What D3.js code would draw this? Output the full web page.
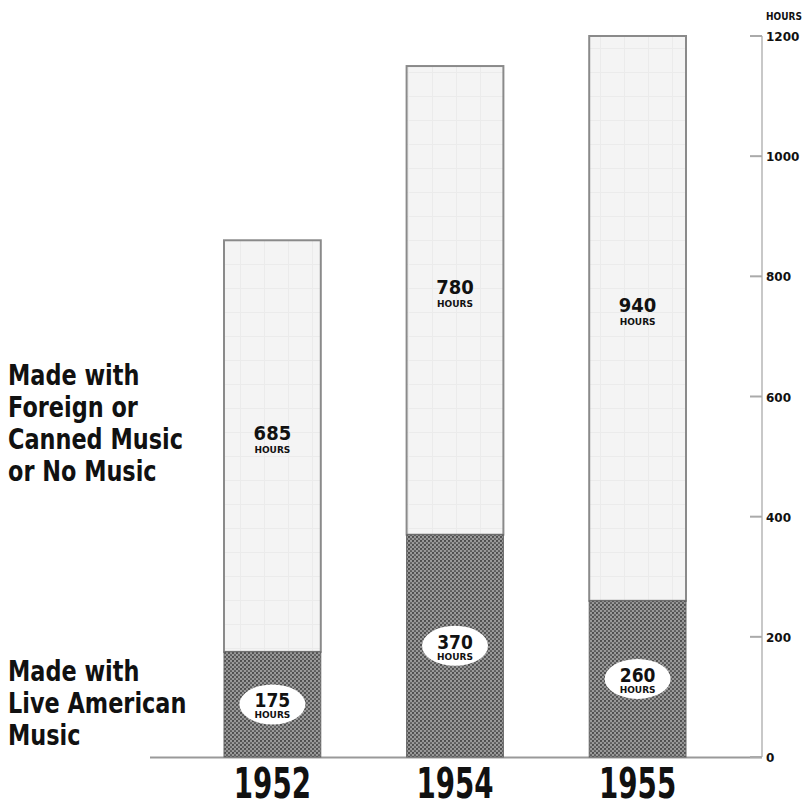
<!DOCTYPE html>
<html>
<head>
<meta charset="utf-8">
<script src="https://cdn.jsdelivr.net/npm/d3@7"></script>
<style>
  body { margin: 0; background: #fff; }
  svg { display: block; }
  .lbl { font-family: "DejaVu Sans", sans-serif; font-weight: bold; fill: #111; }
</style>
</head>
<body>
<div id="chart"></div>
<script>
// data
var years = ["1952", "1954", "1955"];
var liveHours = [175, 370, 260];
var otherHours = [685, 780, 940];
var tickValues = [0, 200, 400, 600, 800, 1000, 1200];
var topLegend = ["Made with", "Foreign or", "Canned Music", "or No Music"];
var bottomLegend = ["Made with", "Live American", "Music"];

var width = 807, height = 809;

var svg = d3.select("#chart").append("svg")
    .attr("width", width)
    .attr("height", height);

var defs = svg.append("defs");

// dark dotted screen for the live music part
var dark = defs.append("pattern")
    .attr("id", "darkdots")
    .attr("width", 4).attr("height", 4)
    .attr("patternUnits", "userSpaceOnUse");
dark.append("rect").attr("width", 4).attr("height", 4).attr("fill", "#9a9a9a");
dark.append("circle").attr("cx", 1).attr("cy", 1).attr("r", 1.1).attr("fill", "#484848");
dark.append("circle").attr("cx", 3).attr("cy", 3).attr("r", 1.1).attr("fill", "#585858");

// faint grid for the light part
var light = defs.append("pattern")
    .attr("id", "lightgrid")
    .attr("width", 24).attr("height", 24)
    .attr("patternUnits", "userSpaceOnUse");
light.append("rect").attr("width", 24).attr("height", 24).attr("fill", "#f4f4f4");
light.append("path").attr("d", "M0,0.5H24M0.5,0V24")
    .attr("stroke", "#ebebeb").attr("stroke-width", 1);

var y = d3.scaleLinear().domain([0, 1200]).range([757, 36]);
var x = d3.scaleBand().domain(years).range([224, 686]).paddingInner(0.47).paddingOuter(0);

var data = years.map(function(yr, i) {
    return { year: yr, live: liveHours[i], other: otherHours[i] };
});

function cx(d) { return x(d.year) + x.bandwidth() / 2; }

// baseline
svg.append("line")
    .attr("x1", 150).attr("x2", 762)
    .attr("y1", y(0) + 0.5).attr("y2", y(0) + 0.5)
    .attr("stroke", "#999").attr("stroke-width", 2);

// right axis
var axis = svg.append("g").attr("transform", "translate(762,0)");
axis.append("line")
    .attr("x1", 0).attr("x2", 0)
    .attr("y1", y(1200)).attr("y2", y(0))
    .attr("stroke", "#c8c8c8").attr("stroke-width", 2);
axis.selectAll(".tick").data(tickValues).enter().append("line")
    .attr("x1", -12).attr("x2", 0)
    .attr("y1", function(d) { return y(d); })
    .attr("y2", function(d) { return y(d); })
    .attr("stroke", "#aaa").attr("stroke-width", 2);
axis.selectAll(".ticklbl").data(tickValues).enter().append("text")
    .attr("class", "lbl")
    .attr("x", 4)
    .attr("y", function(d) { return y(d) + 5; })
    .style("font-size", "12px")
    .text(function(d) { return d; });
axis.append("text")
    .attr("class", "lbl")
    .attr("transform", "translate(4,20) scale(0.9,1)")
    .style("font-size", "10px")
    .text("HOURS");

var bars = svg.selectAll(".bar").data(data).enter().append("g");

// light (foreign / canned / none) part
bars.append("rect")
    .attr("x", function(d) { return x(d.year); })
    .attr("y", function(d) { return y(d.live + d.other); })
    .attr("width", x.bandwidth())
    .attr("height", function(d) { return y(d.live) - y(d.live + d.other); })
    .attr("fill", "url(#lightgrid)")
    .attr("stroke", "#8a8a8a").attr("stroke-width", 2);

// dark (live american) part
bars.append("rect")
    .attr("x", function(d) { return x(d.year); })
    .attr("y", function(d) { return y(d.live); })
    .attr("width", x.bandwidth())
    .attr("height", function(d) { return y(0) - y(d.live); })
    .attr("fill", "url(#darkdots)")
    .attr("stroke", "#666").attr("stroke-width", 1);

// labels in light part
bars.append("text")
    .attr("class", "lbl")
    .attr("text-anchor", "middle")
    .attr("transform", function(d) {
        return "translate(" + cx(d) + "," + ((y(d.live) + y(d.live + d.other)) / 2 - 6) + ") scale(0.9,1)";
    })
    .style("font-size", "20px")
    .text(function(d) { return d.other; });
bars.append("text")
    .attr("class", "lbl")
    .attr("text-anchor", "middle")
    .attr("x", cx)
    .attr("y", function(d) { return (y(d.live) + y(d.live + d.other)) / 2 + 7; })
    .style("font-size", "9px")
    .text("HOURS");

// white ovals in dark part
bars.append("ellipse")
    .attr("cx", cx)
    .attr("cy", function(d) { return (y(0) + y(d.live)) / 2; })
    .attr("rx", 33).attr("ry", 20)
    .attr("fill", "#fff");
bars.append("text")
    .attr("class", "lbl")
    .attr("text-anchor", "middle")
    .attr("transform", function(d) {
        return "translate(" + cx(d) + "," + ((y(0) + y(d.live)) / 2 + 3) + ") scale(0.9,1)";
    })
    .style("font-size", "19px")
    .text(function(d) { return d.live; });
bars.append("text")
    .attr("class", "lbl")
    .attr("text-anchor", "middle")
    .attr("x", cx)
    .attr("y", function(d) { return (y(0) + y(d.live)) / 2 + 14; })
    .style("font-size", "9px")
    .text("HOURS");

// year labels, squeezed to look condensed
svg.selectAll(".year").data(data).enter().append("text")
    .attr("class", "lbl")
    .attr("text-anchor", "middle")
    .attr("transform", function(d) { return "translate(" + cx(d) + ",798) scale(0.66,1)"; })
    .style("font-size", "42px")
    .text(function(d) { return d.year; });

// legends on the left
var legend = svg.append("g");
legend.selectAll(".tleg").data(topLegend).enter().append("text")
    .attr("class", "lbl")
    .attr("transform", function(d, i) { return "translate(8," + (385 + i * 32) + ") scale(0.8,1)"; })
    .style("font-size", "28px")
    .text(function(d) { return d; });
legend.selectAll(".bleg").data(bottomLegend).enter().append("text")
    .attr("class", "lbl")
    .attr("transform", function(d, i) { return "translate(8," + (681 + i * 32) + ") scale(0.8,1)"; })
    .style("font-size", "28px")
    .text(function(d) { return d; });
</script>
</body>
</html>
